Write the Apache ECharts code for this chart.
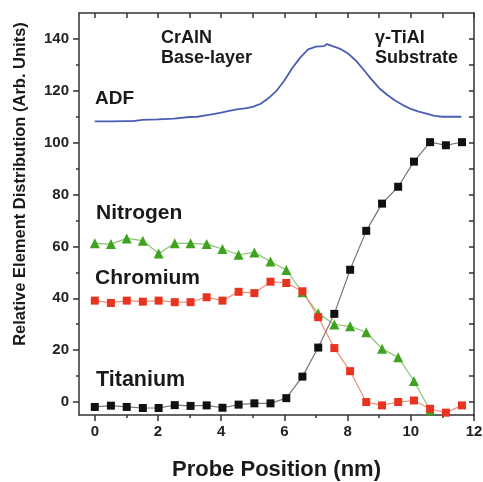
<!DOCTYPE html>
<html>
<head>
<meta charset="utf-8">
<script src="https://cdn.jsdelivr.net/npm/echarts@6/dist/echarts.min.js"></script>
<style>html,body{margin:0;padding:0;background:#fff;}</style>
</head>
<body>
<div id="main" style="width:483px;height:482px;"></div>
<script type="text/javascript">
// probe positions (nm)
var pos = [0, 0.51, 1.01, 1.52, 2.02, 2.53, 3.03, 3.54, 4.04, 4.55, 5.05, 5.56, 6.06, 6.57, 7.07, 7.58, 8.08, 8.59, 9.09, 9.6, 10.1, 10.61, 11.11, 11.62];
var titanium = [-1.9, -1.4, -1.9, -2.3, -2.3, -1.2, -1.5, -1.3, -2.2, -1.0, -0.5, -0.5, 1.5, 9.8, 21, 34, 51, 66, 76.5, 83, 92.7, 100.2, 99, 100.2];
var nitrogen = [61.2, 60.9, 63.1, 62.2, 57.3, 61.2, 61.2, 60.9, 59, 56.8, 57.7, 54.2, 50.9, 42.3, 34.2, 29.9, 29.2, 26.9, 20.5, 17.3, 8.1, -3.2];
var chromium = [39.1, 38.2, 39.1, 38.7, 39.1, 38.5, 38.5, 40.4, 39.1, 42.5, 42, 46.4, 45.9, 42.7, 32.7, 20.8, 11.9, 0, -1.3, 0, 0.6, -2.6, -4.1, -1.3];
// ADF signal
var adfX = [0, 0.5, 1.0, 1.2, 1.25, 1.5, 2.0, 2.5, 3.0, 3.25, 3.5, 3.75, 4.0, 4.25, 4.5, 4.75, 5.0, 5.25, 5.5, 5.75, 6.0, 6.25, 6.5, 6.75, 7.0, 7.25, 7.35, 7.5, 7.75, 8.0, 8.25, 8.5, 8.75, 9.0, 9.25, 9.5, 9.75, 10.0, 10.25, 10.5, 10.75, 11.0, 11.25, 11.6];
var adfY = [108.2, 108.2, 108.3, 108.3, 108.9, 108.8, 109.0, 109.3, 109.9, 110.0, 110.5, 111.0, 111.6, 112.3, 112.8, 113.2, 113.8, 115.0, 117.2, 120.0, 124.0, 128.8, 132.8, 136.0, 137.0, 137.2, 138.0, 137.3, 136.3, 134.5, 131.8, 128.2, 124.5, 121.0, 118.5, 116.3, 114.5, 113.0, 112.0, 111.2, 110.3, 110.0, 110.0, 110.0];
var xMajor = [0, 2, 4, 6, 8, 10, 12];
var xMinor = [1, 3, 5, 7, 9, 11];
var yMajor = [0, 20, 40, 60, 80, 100, 120, 140];
var yMinor = [10, 30, 50, 70, 90, 110, 130];

function pairs(xs, ys) {
  var out = [];
  for (var i = 0; i < ys.length; i++) out.push([xs[i], ys[i]]);
  return out;
}

var myChart = echarts.init(document.getElementById('main'));
var font = 'Liberation Sans';
var lineStyle = {color: '#333', width: 1.5};
var txt = function (x, y, s, size) {
  return {type: 'text', left: x, top: y,
    style: {text: s, fontWeight: 'bold', fontSize: size, fontFamily: font, fill: '#1a1a1a'}};
};

var option = {
  animation: false,
  grid: {left: 79, right: 9, top: 13, bottom: 67, outerBoundsMode: 'none', containLabel: false},
  xAxis: [
    {type: 'value', min: -0.5, max: 12, position: 'bottom',
     axisLine: {onZero: false, lineStyle: lineStyle}, splitLine: {show: false},
     axisTick: {length: 6, lineStyle: lineStyle, customValues: xMajor},
     axisLabel: {customValues: xMajor, fontSize: 15, fontWeight: 'bold', color: '#222', fontFamily: font, margin: 9},
     name: 'Probe Position (nm)', nameLocation: 'middle', nameGap: 44,
     nameTextStyle: {fontSize: 22, fontWeight: 'bold', color: '#1a1a1a', fontFamily: font}},
    {type: 'value', min: -0.5, max: 12, position: 'bottom',
     axisLine: {show: false, onZero: false}, splitLine: {show: false}, axisLabel: {show: false},
     axisTick: {length: 3, lineStyle: lineStyle, customValues: xMinor}},
    {type: 'value', min: -0.5, max: 12, position: 'top',
     axisLine: {onZero: false, lineStyle: lineStyle}, splitLine: {show: false}, axisLabel: {show: false},
     axisTick: {inside: true, length: 5, lineStyle: lineStyle, customValues: xMajor.concat(xMinor)}}
  ],
  yAxis: [
    {type: 'value', min: -5, max: 150, position: 'left',
     axisLine: {show: true, onZero: false, lineStyle: lineStyle}, splitLine: {show: false},
     axisTick: {show: true, length: 6, lineStyle: lineStyle, customValues: yMajor},
     axisLabel: {customValues: yMajor, fontSize: 15, fontWeight: 'bold', color: '#222', fontFamily: font, margin: 10}},
    {type: 'value', min: -5, max: 150, position: 'left',
     axisLine: {show: false, onZero: false}, splitLine: {show: false}, axisLabel: {show: false},
     axisTick: {show: true, length: 3, lineStyle: lineStyle, customValues: yMinor}},
    {type: 'value', min: -5, max: 150, position: 'right',
     axisLine: {show: true, onZero: false, lineStyle: lineStyle}, splitLine: {show: false}, axisLabel: {show: false},
     axisTick: {show: true, inside: true, length: 5, lineStyle: lineStyle, customValues: yMajor.concat(yMinor)}}
  ],
  graphic: [
    {type: 'text', x: 20, y: 184, rotation: Math.PI / 2,
     style: {text: 'Relative Element Distribution (Arb. Units)', fontWeight: 'bold', fontSize: 16.5, fontFamily: font,
             fill: '#1a1a1a', align: 'center', verticalAlign: 'middle'}},
    txt(95, 89, 'ADF', 19),
    txt(161, 29, 'CrAlN', 18),
    txt(161, 49, 'Base-layer', 18),
    txt(375, 29, 'γ-TiAl', 18),
    txt(375, 49, 'Substrate', 18),
    txt(96, 203, 'Nitrogen', 21),
    txt(95, 268, 'Chromium', 21),
    txt(96, 369, 'Titanium', 21.5)
  ],
  series: [
    {name: 'ADF', type: 'line', data: pairs(adfX, adfY), showSymbol: false,
     lineStyle: {color: '#4a5db5', width: 1.8}},
    {name: 'Nitrogen', type: 'line', data: pairs(pos, nitrogen), symbol: 'triangle', symbolSize: 10,
     itemStyle: {color: '#3ea31f'}, lineStyle: {color: '#8cc46e', width: 1.2}},
    {name: 'Chromium', type: 'line', data: pairs(pos, chromium), symbol: 'rect', symbolSize: 8,
     itemStyle: {color: '#e8341f'}, lineStyle: {color: '#f0907a', width: 1.2}},
    {name: 'Titanium', type: 'line', data: pairs(pos, titanium), symbol: 'rect', symbolSize: 8,
     itemStyle: {color: '#111'}, lineStyle: {color: '#777', width: 1.2}}
  ]
};
myChart.setOption(option);
</script>
</body>
</html>
